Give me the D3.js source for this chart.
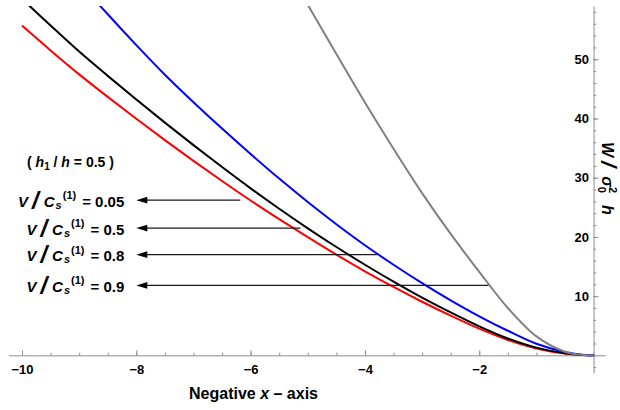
<!DOCTYPE html>
<html>
<head>
<meta charset="utf-8">
<script src="https://cdn.jsdelivr.net/npm/d3@7"></script>
<style>
  body { margin: 0; background: #fff; }
  svg { display: block; font-family: "Liberation Sans", Arial, sans-serif; }
</style>
</head>
<body>
<svg id="chart" width="620" height="410"></svg>
<script>
// W / sigma0^2 h along the negative x-axis, for h1/h = 0.5

// x positions shared by the three lower curves
var xVals = [-10, -9.5, -9, -8.5, -8, -7.5, -7, -6.5, -6, -5.5, -5, -4.5, -4, -3.5, -3, -2.5, -2, -1.5, -1, -0.5, -0.25, 0];
var w005 = [55.7, 51.5, 47.45, 43.65, 39.95, 36.35, 32.85, 29.45, 26.15, 23.0, 19.95, 17.0, 14.2, 11.55, 9.05, 6.7, 4.5, 2.6, 1.15, 0.3, 0.08, 0];
var w05  = [60.2, 55.7, 51.3, 47.2, 43.2, 39.3, 35.5, 31.8, 28.2, 24.75, 21.45, 18.3, 15.3, 12.45, 9.75, 7.25, 4.9, 2.85, 1.3, 0.35, 0.09, 0];
var w08  = [74.4, 68.6, 63.0, 57.6, 52.4, 47.4, 42.75, 38.3, 34.0, 29.85, 25.9, 22.15, 18.6, 15.3, 12.2, 9.3, 6.6, 4.15, 1.95, 0.55, 0.16, 0];

// the steep grey curve
var xGray = [-5.5, -5, -4.5, -4, -3.5, -3, -2.5, -2, -1.5, -1, -0.5, -0.25, 0];
var w09   = [67.6, 59.2, 50.9, 42.7, 34.9, 27.4, 20.5, 14.1, 8.0, 3.2, 0.6, 0.12, 0];

// labels and the arrows pointing at each curve
var ratios = ["0.05", "0.5", "0.8", "0.9"];
var arrowY = [26.2, 21.5, 17.0, 11.8];
var arrowFrom = [-6.18, -5.13, -3.79, -1.84];
var arrowTip = -8;

var xMajor = [-10, -8, -6, -4, -2];
var yMajor = [10, 20, 30, 40, 50];

var svg = d3.select("#chart");

var x = d3.scaleLinear().domain([-10.24, 0.2]).range([8.3, 605]);
var y = d3.scaleLinear().domain([-3, 59]).range([373.1, 6]);

var axisColor = "#8c8c8c";

// minor ticks
var xMinor = d3.range(-10, 0.01, 0.5);
var yMinor = d3.range(-2, 59, 2);

var xAxisG = svg.append("g").attr("transform", "translate(0," + y(0) + ")");
xAxisG.append("g")
    .call(d3.axisBottom(x).tickValues(xMinor).tickSize(-2.7).tickFormat(""))
    .call(function(g) { g.select(".domain").remove(); });
xAxisG.append("g")
    .call(d3.axisBottom(x).tickValues(xMajor).tickSize(-5).tickSizeOuter(0).tickPadding(9.7)
      .tickFormat(d3.format("d")));

var yAxisG = svg.append("g").attr("transform", "translate(" + x(0) + ",0)");
yAxisG.append("g")
    .call(d3.axisLeft(y).tickValues(yMinor).tickSize(-2.7).tickFormat(""))
    .call(function(g) { g.select(".domain").remove(); });
yAxisG.append("g")
    .call(d3.axisLeft(y).tickValues(yMajor).tickSize(-5).tickSizeOuter(0).tickPadding(4.5));

svg.selectAll(".domain, .tick line").attr("stroke", axisColor);
svg.selectAll(".tick text")
    .attr("fill", "#000")
    .attr("font-size", 13)
    .attr("font-weight", "bold")
    .attr("font-family", "'Liberation Sans', Arial, sans-serif");

// curves
svg.append("clipPath").attr("id", "plotClip")
  .append("rect").attr("x", 0).attr("y", y(59)).attr("width", 620).attr("height", 410);

var line = d3.line()
    .x(function(d) { return x(d[0]); })
    .y(function(d) { return y(d[1]); })
    .curve(d3.curveCatmullRom.alpha(0.5));

var series = [
  { xs: xVals, ys: w005, color: "#ff0000", w: 2 },
  { xs: xVals, ys: w05,  color: "#000000", w: 2 },
  { xs: xVals, ys: w08,  color: "#0000ff", w: 2 },
  { xs: xGray, ys: w09,  color: "#808080", w: 2 }
];

svg.append("g").attr("clip-path", "url(#plotClip)")
  .selectAll("path")
  .data(series)
  .enter()
  .append("path")
    .attr("fill", "none")
    .attr("stroke", function(s) { return s.color; })
    .attr("stroke-width", function(s) { return s.w; })
    .attr("d", function(s) { return line(s.xs.map(function(v, i) { return [v, s.ys[i]]; })); });

// arrows
var arrows = svg.append("g");
ratios.forEach(function(r, i) {
  var yy = y(arrowY[i]);
  var tip = x(arrowTip);
  arrows.append("line")
      .attr("x1", x(arrowFrom[i])).attr("x2", tip + 8)
      .attr("y1", yy).attr("y2", yy)
      .attr("stroke", "#1a1a1a").attr("stroke-width", 1.2);
  arrows.append("path")
      .attr("d", "M" + tip + "," + yy + "L" + (tip + 11) + "," + (yy - 3.4) + "L" + (tip + 11) + "," + (yy + 3.4) + "Z")
      .attr("fill", "#000");

  var t = arrows.append("text")
      .attr("x", tip - 12).attr("y", yy + 6.5)
      .attr("text-anchor", "end")
      .attr("font-size", 15).attr("font-weight", "bold").attr("fill", "#000");
  t.append("tspan").attr("font-style", "italic").text("V");
  t.append("tspan").attr("font-size", 24).attr("font-style", "italic").attr("dx", 4).attr("dy", 2).text("/");
  t.append("tspan").attr("font-style", "italic").attr("dx", 5).attr("dy", -2).text("C");
  t.append("tspan").attr("font-style", "italic").attr("font-size", 11).attr("dx", 1).attr("dy", 2).text("s");
  t.append("tspan").attr("font-size", 11).attr("dx", 1).attr("dy", -9.5).text("(1)");
  t.append("tspan").attr("dy", 7.5).attr("dx", 6).text("= " + r);
});

// ( h1 / h = 0.5 )
var h = svg.append("text")
    .attr("x", 27).attr("y", 167)
    .attr("font-size", 14).attr("font-weight", "bold").attr("fill", "#000");
h.append("tspan").text("( ");
h.append("tspan").attr("font-style", "italic").text("h");
h.append("tspan").attr("font-size", 10).attr("dy", 3).text("1");
h.append("tspan").attr("dy", -3).text(" / ");
h.append("tspan").attr("font-style", "italic").text("h");
h.append("tspan").text(" = 0.5 )");

// x-axis title
var xt = svg.append("text")
    .attr("x", 189).attr("y", 399)
    .attr("font-size", 16).attr("font-weight", "bold").attr("fill", "#000");
xt.append("tspan").text("Negative ");
xt.append("tspan").attr("font-style", "italic").text("x");
xt.append("tspan").text(" \u2013 axis");

// y-axis title, rotated
var yt = svg.append("text")
    .attr("transform", "translate(602,142) rotate(90)")
    .attr("font-size", 16).attr("font-weight", "bold").attr("fill", "#000");
yt.append("tspan").attr("font-style", "italic").text("W");
yt.append("tspan").attr("font-size", 22).attr("font-style", "italic").attr("dx", 4).attr("dy", 1.5).text("/");
yt.append("tspan").attr("font-style", "italic").attr("dx", 9).attr("dy", -1.5).text("\u03c3");
yt.append("tspan").attr("font-size", 11).attr("dy", 4).text("0");
yt.append("tspan").attr("font-size", 11).attr("dx", -6.1).attr("dy", -11).text("2");
yt.append("tspan").attr("font-style", "italic").attr("dx", 12).attr("dy", 7).text("h");
</script>
</body>
</html>
